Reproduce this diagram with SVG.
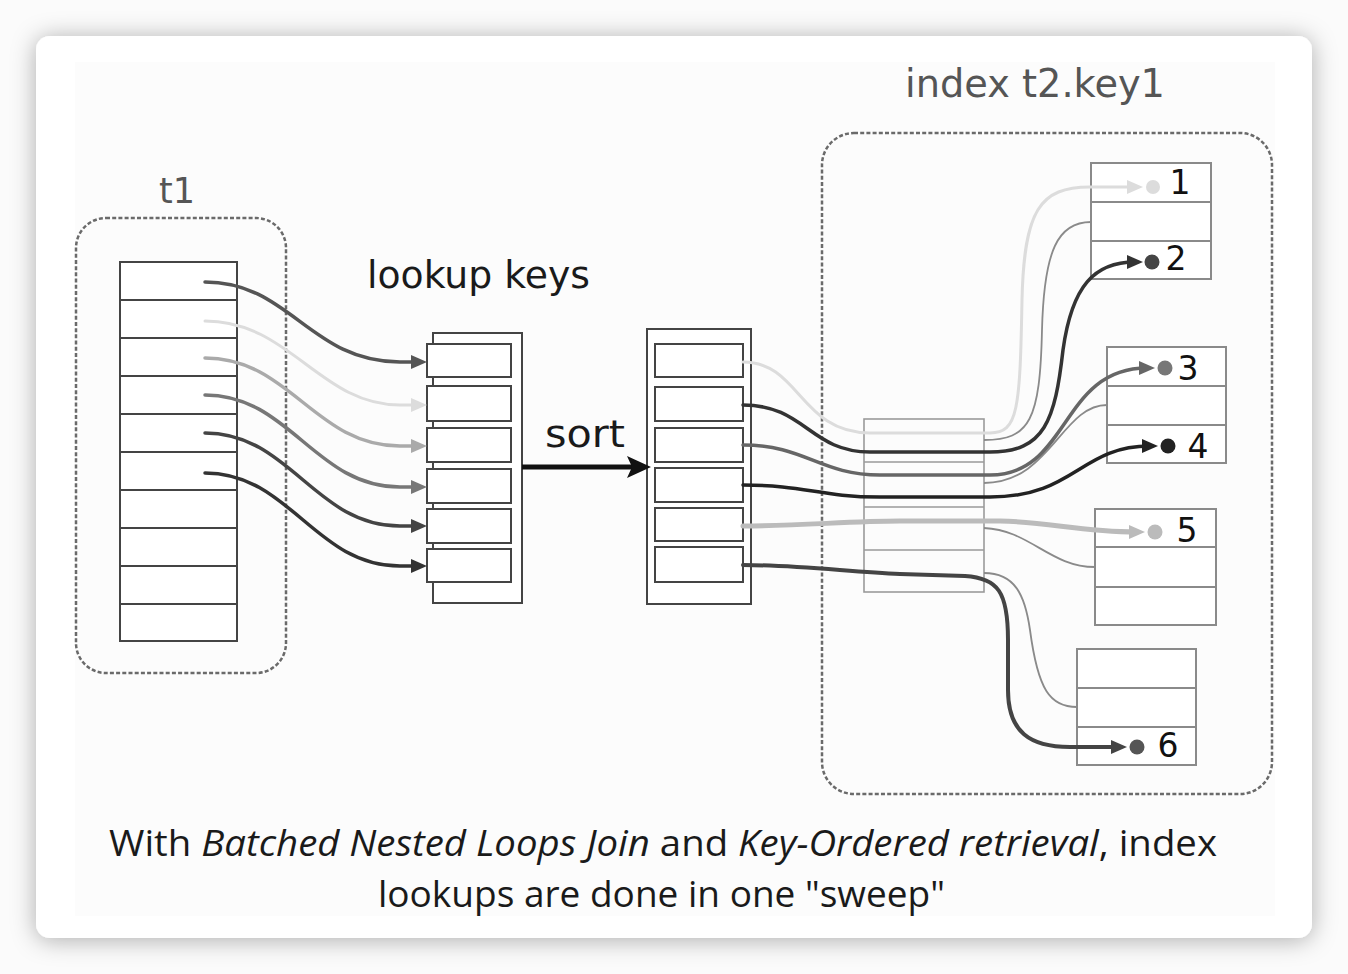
<svg xmlns="http://www.w3.org/2000/svg" width="1348" height="974" viewBox="0 0 1348 974">
<defs>
<filter id="shadow" x="-10%" y="-10%" width="120%" height="120%">
<feDropShadow dx="0" dy="2" stdDeviation="12" flood-color="#000" flood-opacity="0.32"/>
</filter>
<marker id="m555" viewBox="0 0 16 14" refX="8" refY="7" markerWidth="16" markerHeight="14" markerUnits="userSpaceOnUse" orient="auto"><path d="M0,0 L16,7 L0,14 z" fill="#555"/></marker>
<marker id="mddd" viewBox="0 0 16 14" refX="8" refY="7" markerWidth="16" markerHeight="14" markerUnits="userSpaceOnUse" orient="auto"><path d="M0,0 L16,7 L0,14 z" fill="#dcdcdc"/></marker>
<marker id="maaa" viewBox="0 0 16 14" refX="8" refY="7" markerWidth="16" markerHeight="14" markerUnits="userSpaceOnUse" orient="auto"><path d="M0,0 L16,7 L0,14 z" fill="#aaa"/></marker>
<marker id="m777" viewBox="0 0 16 14" refX="8" refY="7" markerWidth="16" markerHeight="14" markerUnits="userSpaceOnUse" orient="auto"><path d="M0,0 L16,7 L0,14 z" fill="#777"/></marker>
<marker id="m444" viewBox="0 0 16 14" refX="8" refY="7" markerWidth="16" markerHeight="14" markerUnits="userSpaceOnUse" orient="auto"><path d="M0,0 L16,7 L0,14 z" fill="#444"/></marker>
<marker id="m333" viewBox="0 0 16 14" refX="8" refY="7" markerWidth="16" markerHeight="14" markerUnits="userSpaceOnUse" orient="auto"><path d="M0,0 L16,7 L0,14 z" fill="#333"/></marker>
<marker id="m666" viewBox="0 0 16 14" refX="8" refY="7" markerWidth="16" markerHeight="14" markerUnits="userSpaceOnUse" orient="auto"><path d="M0,0 L16,7 L0,14 z" fill="#666"/></marker>
<marker id="m222" viewBox="0 0 16 14" refX="8" refY="7" markerWidth="16" markerHeight="14" markerUnits="userSpaceOnUse" orient="auto"><path d="M0,0 L16,7 L0,14 z" fill="#222"/></marker>
<marker id="mbbb" viewBox="0 0 16 14" refX="8" refY="7" markerWidth="16" markerHeight="14" markerUnits="userSpaceOnUse" orient="auto"><path d="M0,0 L16,7 L0,14 z" fill="#bbb"/></marker>
<marker id="msort" viewBox="0 0 24 22" refX="10" refY="11" markerWidth="24" markerHeight="22" markerUnits="userSpaceOnUse" orient="auto"><path d="M0,0 L24,11 L0,22 L5,11 z" fill="#111"/></marker>
</defs>
<style>
.dash{fill:none;stroke:#6a6a6a;stroke-width:2.5;stroke-dasharray:4 2.2}
.tbl{fill:#fff;stroke:#444;stroke-width:2}
.row{stroke:#444;stroke-width:2}
.box{fill:#fff;stroke:#444;stroke-width:2}
.idx{fill:#fff;stroke:#8a8a8a;stroke-width:2}
.irow{stroke:#8a8a8a;stroke-width:2}
.mid{fill:none;stroke:#9a9a9a;stroke-width:1.6}
.lbl{font-family:"Comic Sans MS","DejaVu Sans",sans-serif;}
.num{font-family:"Comic Sans MS","DejaVu Sans",sans-serif;font-size:33px;fill:#111}
.c{fill:none;stroke-linecap:round}
.thin{fill:none;stroke:#8a8a8a;stroke-width:1.8}
.cap{font-family:"Open Sans","Noto Sans",sans-serif;font-size:36px;fill:#1a1a1a}
</style>
<rect x="0" y="0" width="1348" height="974" fill="#fbfbfb"/>
<rect x="36" y="36" width="1276" height="902" rx="14" fill="#fff" filter="url(#shadow)"/>
<rect x="75" y="62" width="1200" height="854" fill="#fcfcfc"/>

<g id="t1">
<text class="lbl" x="177" y="203" font-size="35" fill="#555" text-anchor="middle">t1</text>
<rect class="dash" x="76" y="218" width="210" height="455" rx="30"/>
<rect class="tbl" x="120" y="262" width="117" height="379"/>
<line class="row" x1="120" y1="300" x2="237" y2="300"/>
<line class="row" x1="120" y1="338" x2="237" y2="338"/>
<line class="row" x1="120" y1="376" x2="237" y2="376"/>
<line class="row" x1="120" y1="414" x2="237" y2="414"/>
<line class="row" x1="120" y1="452" x2="237" y2="452"/>
<line class="row" x1="120" y1="490" x2="237" y2="490"/>
<line class="row" x1="120" y1="528" x2="237" y2="528"/>
<line class="row" x1="120" y1="566" x2="237" y2="566"/>
<line class="row" x1="120" y1="604" x2="237" y2="604"/>
</g>

<g id="lookup-keys">
<text class="lbl" x="367" y="288" font-size="37" fill="#1a1a1a" textLength="223" lengthAdjust="spacingAndGlyphs">lookup keys</text>
<rect class="box" x="433" y="333" width="89" height="270"/>
<rect class="box" x="427" y="344" width="84" height="33"/>
<rect class="box" x="427" y="386" width="84" height="35"/>
<rect class="box" x="427" y="428" width="84" height="34"/>
<rect class="box" x="427" y="469" width="84" height="34"/>
<rect class="box" x="427" y="509" width="84" height="34"/>
<rect class="box" x="427" y="549" width="84" height="33"/>
</g>

<g id="sort">
<text class="lbl" x="545" y="447" font-size="38" fill="#1a1a1a" textLength="80" lengthAdjust="spacingAndGlyphs">sort</text>
</g>

<g id="sorted-keys">
<rect class="box" x="647" y="329" width="104" height="275"/>
<rect class="box" x="655" y="344" width="88" height="33"/>
<rect class="box" x="655" y="387" width="88" height="34"/>
<rect class="box" x="655" y="428" width="88" height="34"/>
<rect class="box" x="655" y="468" width="88" height="34"/>
<rect class="box" x="655" y="508" width="88" height="33"/>
<rect class="box" x="655" y="547" width="88" height="35"/>
</g>

<g id="index-t2-key1">
<text class="lbl" x="905" y="97" font-size="39" fill="#555" textLength="260" lengthAdjust="spacingAndGlyphs">index t2.key1</text>
<rect class="dash" x="822" y="133" width="450" height="661" rx="32"/>
</g>

<g id="index-scan">
<rect class="mid" x="864" y="419" width="120" height="173"/>
<line class="mid" x1="864" y1="462" x2="984" y2="462"/>
<line class="mid" x1="864" y1="507" x2="984" y2="507"/>
<line class="mid" x1="864" y1="550" x2="984" y2="550"/>
</g>

<g id="leaf-a">
<rect class="idx" x="1091" y="163" width="120" height="116"/>
<line class="irow" x1="1091" y1="202" x2="1211" y2="202"/>
<line class="irow" x1="1091" y1="241" x2="1211" y2="241"/>
</g>
<g id="leaf-b">
<rect class="idx" x="1107" y="347" width="119" height="116"/>
<line class="irow" x1="1107" y1="386" x2="1226" y2="386"/>
<line class="irow" x1="1107" y1="425" x2="1226" y2="425"/>
</g>
<g id="leaf-c">
<rect class="idx" x="1095" y="509" width="121" height="116"/>
<line class="irow" x1="1095" y1="547" x2="1216" y2="547"/>
<line class="irow" x1="1095" y1="587" x2="1216" y2="587"/>
</g>
<g id="leaf-d">
<rect class="idx" x="1077" y="649" width="119" height="116"/>
<line class="irow" x1="1077" y1="688" x2="1196" y2="688"/>
<line class="irow" x1="1077" y1="727" x2="1196" y2="727"/>
</g>

<g id="connectors">
<path class="c" d="M205,282 C290,282 310,362 400,362 L419,362" stroke="#555" stroke-width="3.5" marker-end="url(#m555)"/>
<path class="c" d="M205,321 C290,321 320,405 400,405 L419,405" stroke="#dcdcdc" stroke-width="3" marker-end="url(#mddd)"/>
<path class="c" d="M205,358 C290,358 315,446 400,446 L419,446" stroke="#aaa" stroke-width="3.5" marker-end="url(#maaa)"/>
<path class="c" d="M205,395 C290,395 315,487 400,487 L419,487" stroke="#777" stroke-width="3.5" marker-end="url(#m777)"/>
<path class="c" d="M205,433 C290,433 315,526 400,526 L419,526" stroke="#444" stroke-width="3.5" marker-end="url(#m444)"/>
<path class="c" d="M205,473 C290,473 315,566 400,566 L419,566" stroke="#333" stroke-width="3.5" marker-end="url(#m333)"/>
<path d="M522,467 L637,467" stroke="#111" stroke-width="5" fill="none" marker-end="url(#msort)"/>
<path class="thin" d="M984,440 C1030,440 1040,420 1042,330 C1044,250 1058,222 1091,222"/>
<path class="thin" d="M984,483 C1050,483 1062,405 1107,405"/>
<path class="thin" d="M984,528 C1030,530 1050,567 1095,567"/>
<path class="thin" d="M984,573 C1015,573 1025,595 1030,630 C1038,690 1050,707 1077,707"/>
<path class="c" d="M743,362 C800,362 800,433 870,433 L990,433 C1018,433 1020,410 1022,300 C1024,210 1040,187 1090,187 L1135,187" stroke="#dcdcdc" stroke-width="3" marker-end="url(#mddd)"/>
<path class="c" d="M743,405 C805,405 810,452 870,452 L990,452 C1045,452 1055,420 1063,350 C1072,285 1095,262 1135,262" stroke="#333" stroke-width="3.5" marker-end="url(#m333)"/>
<path class="c" d="M743,445 C805,445 820,475 880,475 L990,475 C1070,475 1060,368 1147,368" stroke="#666" stroke-width="3.5" marker-end="url(#m666)"/>
<path class="c" d="M743,485 C805,485 820,497 880,497 L990,497 C1075,497 1080,446 1150,446" stroke="#222" stroke-width="3.5" marker-end="url(#m222)"/>
<path class="c" d="M743,526 C800,526 850,521 900,521 L1000,521 C1050,522 1080,532 1137,532" stroke="#bbb" stroke-width="5" marker-end="url(#mbbb)"/>
<path class="c" d="M743,565 C800,565 850,572 900,574 L965,576 C998,578 1008,592 1008,640 L1008,690 C1008,732 1030,747 1070,747 L1119,747" stroke="#444" stroke-width="4" marker-end="url(#m444)"/>
</g>

<g id="hits">
<circle cx="1153" cy="187" r="7" fill="#dcdcdc"/>
<circle cx="1152" cy="262" r="7.5" fill="#444"/>
<circle cx="1165" cy="368" r="7.5" fill="#777"/>
<circle cx="1168" cy="446" r="7.5" fill="#222"/>
<circle cx="1155" cy="532" r="7.5" fill="#bbb"/>
<circle cx="1137" cy="747" r="7.5" fill="#555"/>
<text class="num" x="1180" y="194" text-anchor="middle">1</text>
<text class="num" x="1176" y="270" text-anchor="middle">2</text>
<text class="num" x="1188" y="380" text-anchor="middle">3</text>
<text class="num" x="1198" y="458" text-anchor="middle">4</text>
<text class="num" x="1187" y="542" text-anchor="middle">5</text>
<text class="num" x="1168" y="757" text-anchor="middle">6</text>
</g>

<g id="caption">
<text class="cap" x="109" y="856" textLength="1108" lengthAdjust="spacingAndGlyphs">With <tspan font-style="italic">Batched Nested Loops Join</tspan> and <tspan font-style="italic">Key-Ordered retrieval</tspan>, index</text>
<text class="cap" x="378" y="907" textLength="567" lengthAdjust="spacingAndGlyphs">lookups are done in one "sweep"</text>
</g>
</svg>
